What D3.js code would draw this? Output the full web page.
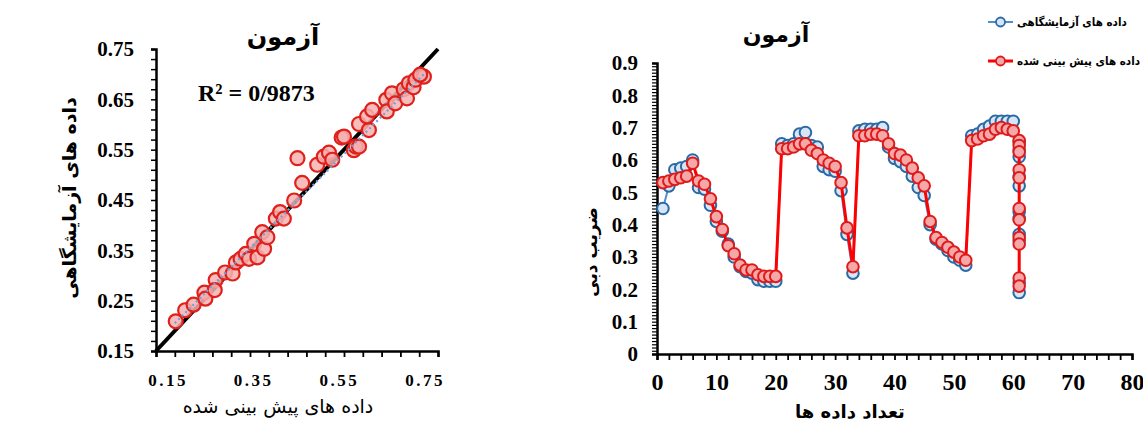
<!DOCTYPE html>
<html><head><meta charset="utf-8">
<script src="https://cdn.jsdelivr.net/npm/d3@7"></script>
<style>
body{margin:0;background:#fff;}
svg{display:block;}
.fa{font-family:"DejaVu Sans",sans-serif;}
.num{font-family:"Liberation Serif","Times New Roman",serif;font-weight:bold;}
</style></head>
<body>
<svg id="c" width="1143" height="429"></svg>
<script>
// ---------- data ----------
const scatterTitle = "آزمون";
const scatterXLabel = "داده های پیش بینی شده";
const scatterYLabel = "داده های آزمایشگاهی";
const r2Text = "R² = 0/9873";
const scatterTicks = [0.15, 0.35, 0.55, 0.75];
const scatterYTicks = [0.15, 0.25, 0.35, 0.45, 0.55, 0.65, 0.75];
const scatterX = [0.192,0.212,0.230,0.253,0.255,0.277,0.275,0.297,0.313,0.320,0.330,0.341,0.348,0.359,0.366,0.376,0.380,0.387,0.405,0.414,0.422,0.444,0.451,0.461,0.493,0.507,0.518,0.525,0.545,0.550,0.571,0.575,0.582,0.582,0.603,0.599,0.610,0.640,0.641,0.652,0.659,0.677,0.684,0.688,0.698,0.702,0.720,0.712];
const scatterY = [0.209,0.231,0.242,0.266,0.254,0.291,0.271,0.306,0.304,0.326,0.333,0.343,0.333,0.363,0.336,0.386,0.353,0.376,0.413,0.426,0.413,0.449,0.533,0.484,0.520,0.536,0.544,0.530,0.574,0.576,0.549,0.556,0.556,0.601,0.589,0.616,0.629,0.649,0.626,0.662,0.642,0.670,0.652,0.682,0.674,0.689,0.695,0.699];

const lineTitle = "آزمون";
const lineXLabel = "تعداد داده ها";
const lineYLabel = "ضریب دبی";
const legendLab = "داده های آزمایشگاهی";
const legendPred = "داده های پیش بینی شده";
const lineXTicks = [0,10,20,30,40,50,60,70,80];
const lineYTicks = [0,0.1,0.2,0.3,0.4,0.5,0.6,0.7,0.8,0.9];
const dataIndex = [1,2,3,4,5,6,7,8,9,10,11,12,13,14,15,16,17,18,19,20,21,22,23,24,25,26,27,28,29,30,31,32,33,34,35,36,37,38,39,40,41,42,43,44,45,46,47,48,49,50,51,52,53,54,55,56,57,58,59,60,61,61,61,61,61,61,61,61,61,61,61];
const labValues = [0.45,0.52,0.57,0.575,0.58,0.60,0.515,0.51,0.46,0.41,0.38,0.34,0.30,0.27,0.255,0.25,0.23,0.225,0.225,0.225,0.65,0.645,0.65,0.68,0.685,0.645,0.64,0.58,0.57,0.565,0.505,0.37,0.25,0.69,0.695,0.695,0.695,0.70,0.64,0.605,0.595,0.58,0.55,0.515,0.49,0.40,0.355,0.34,0.32,0.30,0.29,0.275,0.675,0.68,0.695,0.705,0.72,0.72,0.72,0.72,0.655,0.63,0.61,0.55,0.52,0.44,0.42,0.37,0.35,0.22,0.19];
const predValues = [0.53,0.535,0.54,0.545,0.55,0.59,0.535,0.525,0.48,0.425,0.385,0.335,0.31,0.275,0.26,0.26,0.245,0.24,0.24,0.24,0.635,0.635,0.64,0.65,0.65,0.63,0.62,0.60,0.59,0.58,0.53,0.39,0.27,0.675,0.675,0.68,0.68,0.675,0.65,0.62,0.615,0.60,0.575,0.545,0.52,0.41,0.36,0.345,0.33,0.315,0.30,0.29,0.66,0.665,0.675,0.68,0.695,0.70,0.695,0.69,0.66,0.645,0.625,0.57,0.545,0.45,0.415,0.36,0.34,0.235,0.21];

// ---------- drawing ----------
const svg = d3.select("#c");

// ===== Left scatter =====
const sx = d3.scaleLinear().domain([0.15,0.75]).range([156,438]);
const sy = d3.scaleLinear().domain([0.15,0.75]).range([351,49]);
const sxLabel = d3.scaleLinear().domain([0.15,0.75]).range([168,425]);
const L = svg.append("g");

L.append("g").attr("transform","translate(156,0)")
  .call(d3.axisLeft(sy).tickValues(d3.range(0,31).map(i=>0.15+i*0.02)).tickSize(5).tickFormat(""))
  .call(g=>g.selectAll("line").attr("stroke","#000").attr("stroke-width",1.5))
  .call(g=>g.select(".domain").attr("stroke","#000").attr("stroke-width",2.5));
L.append("g").attr("transform","translate(156,0)")
  .call(d3.axisLeft(sy).tickValues(scatterYTicks).tickSize(0).tickPadding(22).tickFormat(d3.format(".2f")))
  .call(g=>g.select(".domain").remove())
  .call(g=>g.selectAll("text").attr("class","num").attr("font-size",21).attr("fill","#000"));
L.append("g").attr("transform","translate(0,351)")
  .call(d3.axisBottom(sx).tickValues(d3.range(0,16).map(i=>0.15+i*0.04)).tickSize(6).tickFormat(""))
  .call(g=>g.selectAll("line").attr("stroke","#000").attr("stroke-width",1.8))
  .call(g=>g.select(".domain").attr("stroke","#000").attr("stroke-width",2.5));
L.append("g").selectAll("text").data(scatterTicks).join("text")
  .attr("class","num").attr("x",d=>sxLabel(d)).attr("y",386)
  .attr("text-anchor","middle").attr("font-size",17).attr("letter-spacing",2.5)
  .text(d=>d3.format(".2f")(d));

L.append("line").attr("x1",sx(0.15)).attr("y1",sy(0.15)).attr("x2",sx(0.75)).attr("y2",sy(0.75))
  .attr("stroke","#000").attr("stroke-width",4);

L.append("g").selectAll("circle").data(scatterX.map((x,i)=>[x,scatterY[i]])).join("circle")
  .attr("cx",d=>sx(d[0])).attr("cy",d=>sy(d[1])).attr("r",7)
  .attr("fill","#f6b0b0").attr("fill-opacity",0.85).attr("stroke","#e0201b").attr("stroke-width",2.2);

L.append("line").attr("x1",sx(0.19)).attr("y1",sy(0.205)).attr("x2",sx(0.72)).attr("y2",sy(0.70))
  .attr("stroke","#6fa0d8").attr("stroke-width",2.2).attr("stroke-dasharray","2,3");

L.append("text").attr("class","fa").attr("x",283).attr("y",45).attr("text-anchor","middle")
  .attr("font-size",24).attr("font-weight","bold").text(scatterTitle);
L.append("text").attr("class","num").attr("x",198).attr("y",101).attr("font-size",24).text(r2Text);
L.append("text").attr("class","fa").attr("x",278).attr("y",413).attr("text-anchor","middle")
  .attr("font-size",19).text(scatterXLabel);
L.append("text").attr("class","fa").attr("transform","translate(76,198) rotate(-90)").attr("text-anchor","middle")
  .attr("font-size",19).attr("font-weight","bold").text(scatterYLabel);

// ===== Right line chart =====
const x = d3.scaleLinear().domain([0,80]).range([657,1132]);
const y = d3.scaleLinear().domain([0,0.9]).range([354,63]);
const R = svg.append("g");

R.append("g").attr("transform","translate(657,0)")
  .call(d3.axisLeft(y).tickValues(d3.range(0,91).map(i=>i/100)).tickSize(5).tickFormat(""))
  .call(g=>g.selectAll("line").attr("stroke","#000").attr("stroke-width",1.2))
  .call(g=>g.select(".domain").attr("stroke","#000").attr("stroke-width",2.5));
R.append("g").attr("transform","translate(657,0)")
  .call(d3.axisLeft(y).tickValues(lineYTicks).tickSize(0).tickPadding(19).tickFormat(d=>d===0?"0":d3.format(".1f")(d)))
  .call(g=>g.select(".domain").remove())
  .call(g=>g.selectAll("text").attr("class","num").attr("font-size",21).attr("fill","#000"));
R.append("g").attr("transform","translate(0,354)")
  .call(d3.axisBottom(x).tickValues(d3.range(0,41).map(i=>i*2)).tickSize(6).tickFormat(""))
  .call(g=>g.selectAll("line").attr("stroke","#000").attr("stroke-width",1.8))
  .call(g=>g.select(".domain").attr("stroke","#000").attr("stroke-width",2.5));
R.append("g").attr("transform","translate(0,354)")
  .call(d3.axisBottom(x).tickValues(lineXTicks).tickSize(0).tickPadding(19))
  .call(g=>g.select(".domain").remove())
  .call(g=>g.selectAll("text").attr("class","num").attr("font-size",24).attr("fill","#000"));

const labPts = dataIndex.map((d,i)=>[d,labValues[i]]);
const predPts = dataIndex.map((d,i)=>[d,predValues[i]]);
const line = d3.line().x(d=>x(d[0])).y(d=>y(d[1]));

R.append("path").attr("d",line(labPts)).attr("fill","none").attr("stroke","#4f8fd0").attr("stroke-width",2);
R.append("g").selectAll("circle").data(labPts).join("circle")
  .attr("cx",d=>x(d[0])).attr("cy",d=>y(d[1])).attr("r",5.8)
  .attr("fill","#d6e6f6").attr("stroke","#2a6aa5").attr("stroke-width",2);
R.append("path").attr("d",line(predPts)).attr("fill","none").attr("stroke","#ff0000").attr("stroke-width",3);
R.append("g").selectAll("circle").data(predPts).join("circle")
  .attr("cx",d=>x(d[0])).attr("cy",d=>y(d[1])).attr("r",5.8)
  .attr("fill","#f5a8a8").attr("stroke","#e01a1a").attr("stroke-width",2);

R.append("text").attr("class","fa").attr("x",776).attr("y",42).attr("text-anchor","middle")
  .attr("font-size",22).attr("font-weight","bold").text(lineTitle);
R.append("text").attr("class","fa").attr("x",850).attr("y",418).attr("text-anchor","middle")
  .attr("font-size",18).attr("font-weight","bold").text(lineXLabel);
R.append("text").attr("class","fa").attr("transform","translate(597,252) rotate(-90)").attr("text-anchor","middle")
  .attr("font-size",17).attr("font-weight","bold").text(lineYLabel);

const leg = [{t:legendLab,s:"#4f8fd0",ms:"#2a6aa5",f:"#d6e6f6",w:2,y:22},{t:legendPred,s:"#ff0000",ms:"#e01a1a",f:"#f5a8a8",w:3,y:61}];
const lg = R.append("g").selectAll("g").data(leg).join("g");
lg.append("line").attr("x1",988).attr("x2",1013).attr("y1",d=>d.y).attr("y2",d=>d.y).attr("stroke",d=>d.s).attr("stroke-width",d=>d.w);
lg.append("circle").attr("cx",1000.5).attr("cy",d=>d.y).attr("r",4.5).attr("fill",d=>d.f).attr("stroke",d=>d.ms).attr("stroke-width",1.8);
lg.append("text").attr("class","fa").attr("x",1017).attr("y",d=>d.y+4).attr("font-size",11.5)
  .attr("font-weight","bold").attr("style","font-family:'DejaVu Sans Condensed','DejaVu Sans',sans-serif").text(d=>d.t);
</script>
</body></html>
